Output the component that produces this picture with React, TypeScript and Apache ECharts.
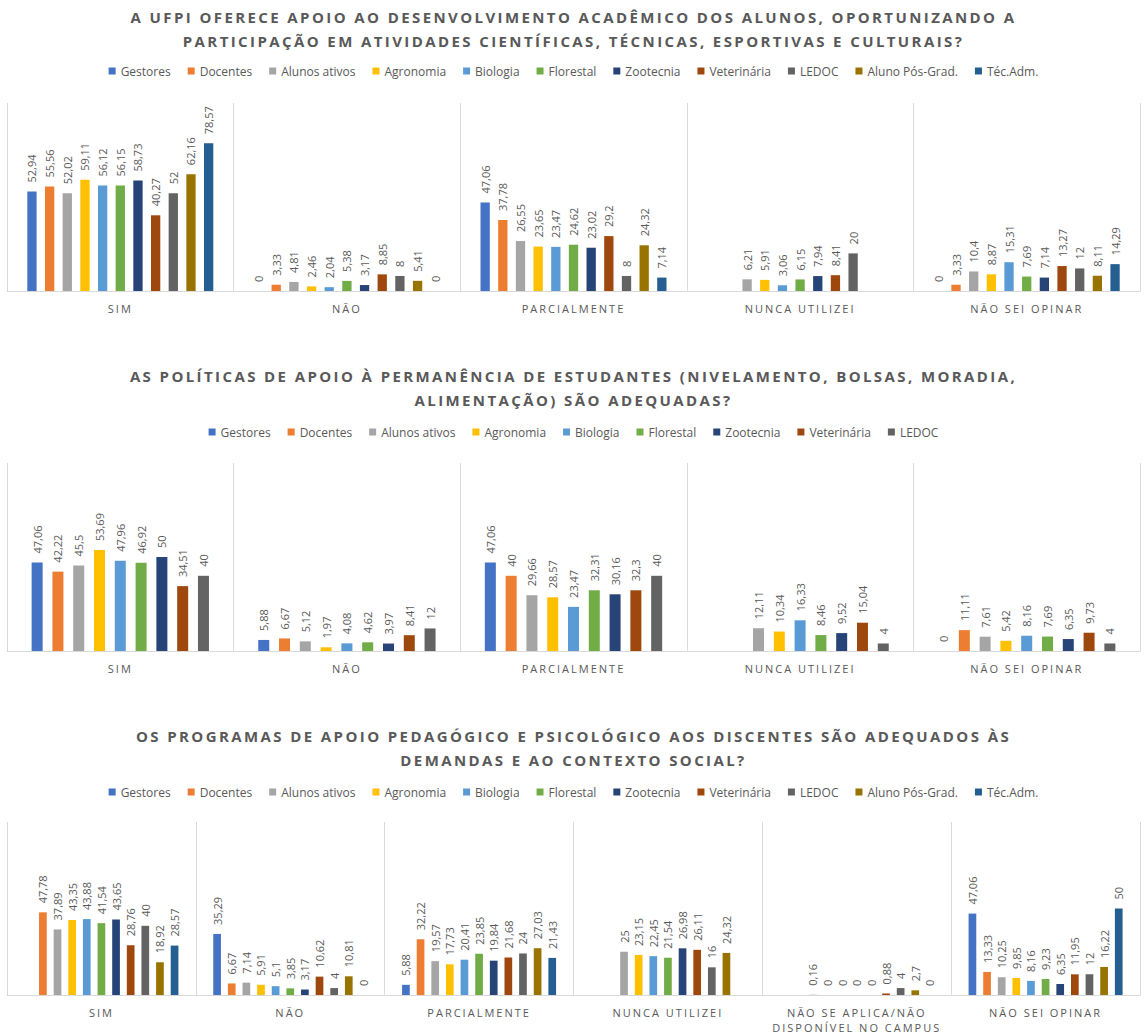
import React, { useEffect, useRef } from "react";
import * as echarts from "echarts";

// ---------- DATA ----------
const groupsAll = [
  "Gestores",
  "Docentes",
  "Alunos ativos",
  "Agronomia",
  "Biologia",
  "Florestal",
  "Zootecnia",
  "Veterinária",
  "LEDOC",
  "Aluno Pós-Grad.",
  "Téc.Adm.",
];
const groupsQ2 = [
  "Gestores",
  "Docentes",
  "Alunos ativos",
  "Agronomia",
  "Biologia",
  "Florestal",
  "Zootecnia",
  "Veterinária",
  "LEDOC",
];

const categoriesQ1 = ["SIM", "NÃO", "PARCIALMENTE", "NUNCA UTILIZEI", "NÃO SEI OPINAR"];
const categoriesQ2 = ["SIM", "NÃO", "PARCIALMENTE", "NUNCA UTILIZEI", "NÃO SEI OPINAR"];
const categoriesQ3 = [
  "SIM",
  "NÃO",
  "PARCIALMENTE",
  "NUNCA UTILIZEI",
  "NÃO SE APLICA/NÃO DISPONÍVEL NO CAMPUS",
  "NÃO SEI OPINAR",
];

const titleQ1 =
  "A UFPI OFERECE APOIO AO DESENVOLVIMENTO ACADÊMICO DOS ALUNOS, OPORTUNIZANDO A\nPARTICIPAÇÃO EM ATIVIDADES CIENTÍFICAS, TÉCNICAS, ESPORTIVAS E CULTURAIS?";
const titleQ2 =
  "AS POLÍTICAS DE APOIO À PERMANÊNCIA DE ESTUDANTES (NIVELAMENTO, BOLSAS, MORADIA,\nALIMENTAÇÃO) SÃO ADEQUADAS?";
const titleQ3 =
  "OS PROGRAMAS DE APOIO PEDAGÓGICO E PSICOLÓGICO AOS DISCENTES SÃO ADEQUADOS ÀS\nDEMANDAS E AO CONTEXTO SOCIAL?";

// values per category, in the order of the groups (null = no bar)
const q1Sim = [52.94, 55.56, 52.02, 59.11, 56.12, 56.15, 58.73, 40.27, 52, 62.16, 78.57];
const q1Nao = [0, 3.33, 4.81, 2.46, 2.04, 5.38, 3.17, 8.85, 8, 5.41, 0];
const q1Parcial = [47.06, 37.78, 26.55, 23.65, 23.47, 24.62, 23.02, 29.2, 8, 24.32, 7.14];
const q1Nunca = [null, null, 6.21, 5.91, 3.06, 6.15, 7.94, 8.41, 20, null, null];
const q1NaoSei = [0, 3.33, 10.4, 8.87, 15.31, 7.69, 7.14, 13.27, 12, 8.11, 14.29];

const q2Sim = [47.06, 42.22, 45.5, 53.69, 47.96, 46.92, 50, 34.51, 40];
const q2Nao = [5.88, 6.67, 5.12, 1.97, 4.08, 4.62, 3.97, 8.41, 12];
const q2Parcial = [47.06, 40, 29.66, 28.57, 23.47, 32.31, 30.16, 32.3, 40];
const q2Nunca = [null, null, 12.11, 10.34, 16.33, 8.46, 9.52, 15.04, 4];
const q2NaoSei = [0, 11.11, 7.61, 5.42, 8.16, 7.69, 6.35, 9.73, 4];

const q3Sim = [null, 47.78, 37.89, 43.35, 43.88, 41.54, 43.65, 28.76, 40, 18.92, 28.57];
const q3Nao = [35.29, 6.67, 7.14, 5.91, 5.1, 3.85, 3.17, 10.62, 4, 10.81, 0];
const q3Parcial = [5.88, 32.22, 19.57, 17.73, 20.41, 23.85, 19.84, 21.68, 24, 27.03, 21.43];
const q3Nunca = [null, null, 25, 23.15, 22.45, 21.54, 26.98, 26.11, 16, 24.32, null];
const q3NaoAplica = [null, null, 0.16, 0, 0, 0, 0, 0.88, 4, 2.7, 0];
const q3NaoSei = [47.06, 13.33, 10.25, 9.85, 8.16, 9.23, 6.35, 11.95, 12, 16.22, 50];

// ---------- STYLE ----------
const groupColors: Record<string, string> = {
  Gestores: "#4472C4",
  Docentes: "#ED7D31",
  "Alunos ativos": "#A5A5A5",
  Agronomia: "#FFC000",
  Biologia: "#5B9BD5",
  Florestal: "#70AD47",
  Zootecnia: "#264478",
  "Veterinária": "#9E480E",
  LEDOC: "#636363",
  "Aluno Pós-Grad.": "#997300",
  "Téc.Adm.": "#255E91",
};

const TEXT = "#595959";
const LINE = "#d9d9d9";
const SANS = "'Open Sans', 'Noto Sans', sans-serif";
// font stacks used as markers for the letter-spaced texts (Open Sans is installed, so it renders)
const TITLE_FONT = "'Open Sans', Verdana, sans-serif";
const AXIS_FONT = "'Open Sans', Tahoma, sans-serif";

const spacingCss = `
.chart-host text[style*="Verdana"] { letter-spacing: 2.4px; }
.chart-host text[style*="Tahoma"] { letter-spacing: 2px; }
`;

export default function App() {
  const ref = useRef<HTMLDivElement>(null);

  useEffect(() => {
    document.body.style.margin = "0";
    document.body.style.overflow = "hidden";
    if (!ref.current) return;
    const chart = echarts.init(ref.current, undefined, { renderer: "svg" });

    const panels = [
      {
        groups: groupsAll,
        cats: categoriesQ1,
        rows: [q1Sim, q1Nao, q1Parcial, q1Nunca, q1NaoSei],
        grid: { left: 7, width: 1133, top: 103, height: 188 },
        barWidth: 9.3,
        barGap: "90%",
        title: titleQ1,
        titleTop: 5,
        legendTop: 65,
      },
      {
        groups: groupsQ2,
        cats: categoriesQ2,
        rows: [q2Sim, q2Nao, q2Parcial, q2Nunca, q2NaoSei],
        grid: { left: 7, width: 1133, top: 463, height: 188 },
        barWidth: 11,
        barGap: "89%",
        title: titleQ2,
        titleTop: 364,
        legendTop: 426,
      },
      {
        groups: groupsAll,
        cats: categoriesQ3,
        rows: [q3Sim, q3Nao, q3Parcial, q3Nunca, q3NaoAplica, q3NaoSei],
        grid: { left: 7, width: 1133, top: 822, height: 173 },
        barWidth: 7.7,
        barGap: "90%",
        title: titleQ3,
        titleTop: 724,
        legendTop: 786,
      },
    ];

    const series: any[] = [];
    panels.forEach((p, pi) => {
      p.groups.forEach((name, si) => {
        series.push({
          type: "bar",
          name,
          xAxisIndex: pi,
          yAxisIndex: pi,
          data: p.rows.map((r) => r[si]),
          barWidth: p.barWidth,
          barGap: p.barGap,
          itemStyle: { color: groupColors[name] },
          label: {
            show: true,
            position: "top",
            rotate: 90,
            align: "left",
            verticalAlign: "middle",
            distance: 9,
            fontSize: 11,
            color: TEXT,
            fontFamily: SANS,
            formatter: (prm: any) =>
              prm.value == null ? "" : String(prm.value).replace(".", ","),
          },
        });
      });
    });

    chart.setOption({
      animation: false,
      textStyle: { fontFamily: SANS },
      title: panels.map((p) => ({
        text: p.title,
        left: "center",
        top: p.titleTop,
        padding: 0,
        textStyle: {
          fontFamily: TITLE_FONT,
          fontWeight: "bold",
          fontSize: 15,
          lineHeight: 24,
          color: TEXT,
        },
      })),
      legend: panels.map((p) => ({
        data: p.groups,
        top: p.legendTop,
        left: "center",
        padding: 0,
        icon: "rect",
        itemWidth: 7,
        itemHeight: 7,
        itemGap: 17,
        textStyle: { fontSize: 12, color: TEXT, fontFamily: SANS },
      })),
      grid: panels.map((p) => ({ ...p.grid, containLabel: false })),
      xAxis: panels.map((p, pi) => ({
        type: "category",
        gridIndex: pi,
        data: p.cats,
        axisLine: { show: true, lineStyle: { color: LINE, width: 1 } },
        axisTick: { show: false },
        splitLine: { show: true, interval: 0, lineStyle: { color: LINE, width: 1 } },
        axisLabel: {
          interval: 0,
          margin: 10,
          fontSize: 11,
          lineHeight: 15,
          color: TEXT,
          fontFamily: AXIS_FONT,
          formatter: (v: string) => v.replace("/NÃO ", "/NÃO\n"),
        },
      })),
      yAxis: panels.map((p, pi) => ({
        type: "value",
        gridIndex: pi,
        min: 0,
        max: 100,
        show: false,
        splitLine: { show: false },
      })),
      series,
    });

    return () => chart.dispose();
  }, []);

  return (
    <>
      <style>{spacingCss}</style>
      <div
        ref={ref}
        className="chart-host"
        style={{ width: 1147, height: 1035, background: "#fff" }}
      />
    </>
  );
}
